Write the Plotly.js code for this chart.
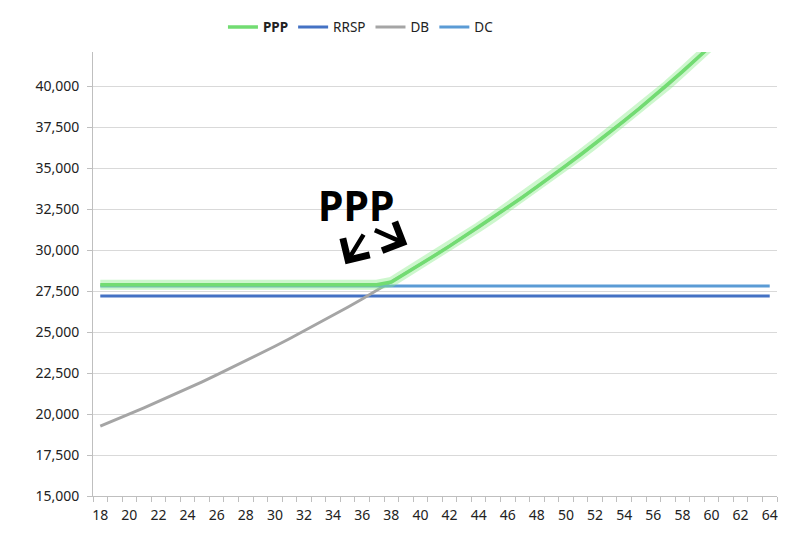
<!DOCTYPE html>
<html>
<head>
<meta charset="utf-8">
<script src="https://cdn.plot.ly/plotly-3.0.1.min.js"></script>
<style>html,body{margin:0;padding:0;background:#fff;}#chart{width:800px;height:551px;}</style>
</head>
<body>
<div id="chart"></div>
<script>
// Ages (category axis)
const ages = [18,19,20,21,22,23,24,25,26,27,28,29,30,31,32,33,34,35,36,37,38,39,40,41,42,43,44,45,46,47,48,49,50,51,52,53,54,55,56,57,58,59,60,61,62,63,64];

// Series values
const rrsp = [27200,27200,27200,27200,27200,27200,27200,27200,27200,27200,27200,27200,27200,27200,27200,27200,27200,27200,27200,27200,27200,27200,27200,27200,27200,27200,27200,27200,27200,27200,27200,27200,27200,27200,27200,27200,27200,27200,27200,27200,27200,27200,27200,27200,27200,27200,27200];
const dc = [27820,27820,27820,27820,27820,27820,27820,27820,27820,27820,27820,27820,27820,27820,27820,27820,27820,27820,27820,27820,27820,27820,27820,27820,27820,27820,27820,27820,27820,27820,27820,27820,27820,27820,27820,27820,27820,27820,27820,27820,27820,27820,27820,27820,27820,27820,27820];
const db = [19270,19630,20000,20380,20770,21160,21560,21970,22390,22820,23250,23690,24140,24600,25070,25550,26030,26520,27020,27540,28060,28590,29140,29690,30250,30830,31410,32010,32620,33230,33860,34510,35160,35830,36510,37200,37900,38620,39360,40100,40900,41700,42500,43300,44100,44950,45800];
const ppp = [27900,27900,27900,27900,27900,27900,27900,27900,27900,27900,27900,27900,27900,27900,27900,27900,27900,27900,27900,27900,28060,28590,29140,29690,30250,30830,31410,32010,32620,33230,33860,34510,35160,35830,36510,37200,37900,38620,39360,40100,40900,41700,42500,43300,44100,44950,45800];

// Labels
const seriesNames = ["<b>PPP</b>", "RRSP", "DB", "DC"];
const annotationText = "PPP";

const font = "Noto Sans, DejaVu Sans, sans-serif";

const traces = [
  {x: ages, y: rrsp, name: seriesNames[1], type: 'scatter', mode: 'lines',
   line: {color: '#4472C4', width: 3}, legendrank: 2},
  {x: ages, y: db, name: seriesNames[2], type: 'scatter', mode: 'lines',
   line: {color: '#A5A5A5', width: 3}, legendrank: 3},
  {x: ages, y: dc, name: seriesNames[3], type: 'scatter', mode: 'lines',
   line: {color: '#5B9BD5', width: 3}, legendrank: 4},
  {x: ages, y: ppp, name: 'glow', type: 'scatter', mode: 'lines', showlegend: false,
   hoverinfo: 'skip', line: {color: 'rgba(135,235,135,0.42)', width: 10}},
  {x: ages, y: ppp, name: seriesNames[0], type: 'scatter', mode: 'lines',
   line: {color: '#72DC72', width: 3.5}, legendrank: 1}
];

const layout = {
  width: 800, height: 551,
  paper_bgcolor: '#ffffff', plot_bgcolor: '#ffffff',
  margin: {l: 93, r: 23, t: 52, b: 55},
  font: {family: font, size: 14, color: '#333333'},
  showlegend: true,
  legend: {orientation: 'h', x: 0.19, xanchor: 'left', y: 1.056, yanchor: 'middle',
           font: {family: font, size: 13.5, color: '#222'}, itemwidth: 30, tracegroupgap: 0,
           bgcolor: 'rgba(0,0,0,0)'},
  xaxis: {
    range: [17.5, 64.5], tick0: 18, dtick: 2, ticks: '', showgrid: false, zeroline: false,
    showline: true, linecolor: '#bfbfbf', linewidth: 1, ticklabelstandoff: 6,
    tickfont: {family: font, size: 14, color: '#222'},
    minor: {tick0: 17.5, dtick: 1, ticks: 'outside', ticklen: 5, tickcolor: '#bfbfbf', showgrid: false}
  },
  yaxis: {
    range: [15000, 42100], tick0: 15000, dtick: 2500, tickformat: ',d',
    ticks: 'outside', ticklen: 5, tickcolor: '#bfbfbf', ticklabelstandoff: 5,
    showgrid: true, gridcolor: '#d9d9d9', gridwidth: 1, zeroline: false,
    showline: true, linecolor: '#bfbfbf', linewidth: 1,
    tickfont: {family: font, size: 14, color: '#222'}
  },
  annotations: [
    {xref: 'x', yref: 'y', x: 35.55, y: 32750, text: annotationText, showarrow: false,
     font: {family: font, size: 41, color: '#000', weight: 'bold'}},
    {xref: 'x', yref: 'y', x: 34.85, y: 29150, text: '', showarrow: true,
     arrowhead: 4, arrowsize: 1.35, arrowwidth: 4.5, arrowcolor: '#000', ax: 19, ay: -31},
    {xref: 'x', yref: 'y', x: 39.1, y: 30350, text: '', showarrow: true,
     arrowhead: 4, arrowsize: 1.35, arrowwidth: 4.5, arrowcolor: '#000', ax: -34, ay: -15}
  ]
};

Plotly.newPlot('chart', traces, layout, {staticPlot: true, displayModeBar: false});
</script>
</body>
</html>
